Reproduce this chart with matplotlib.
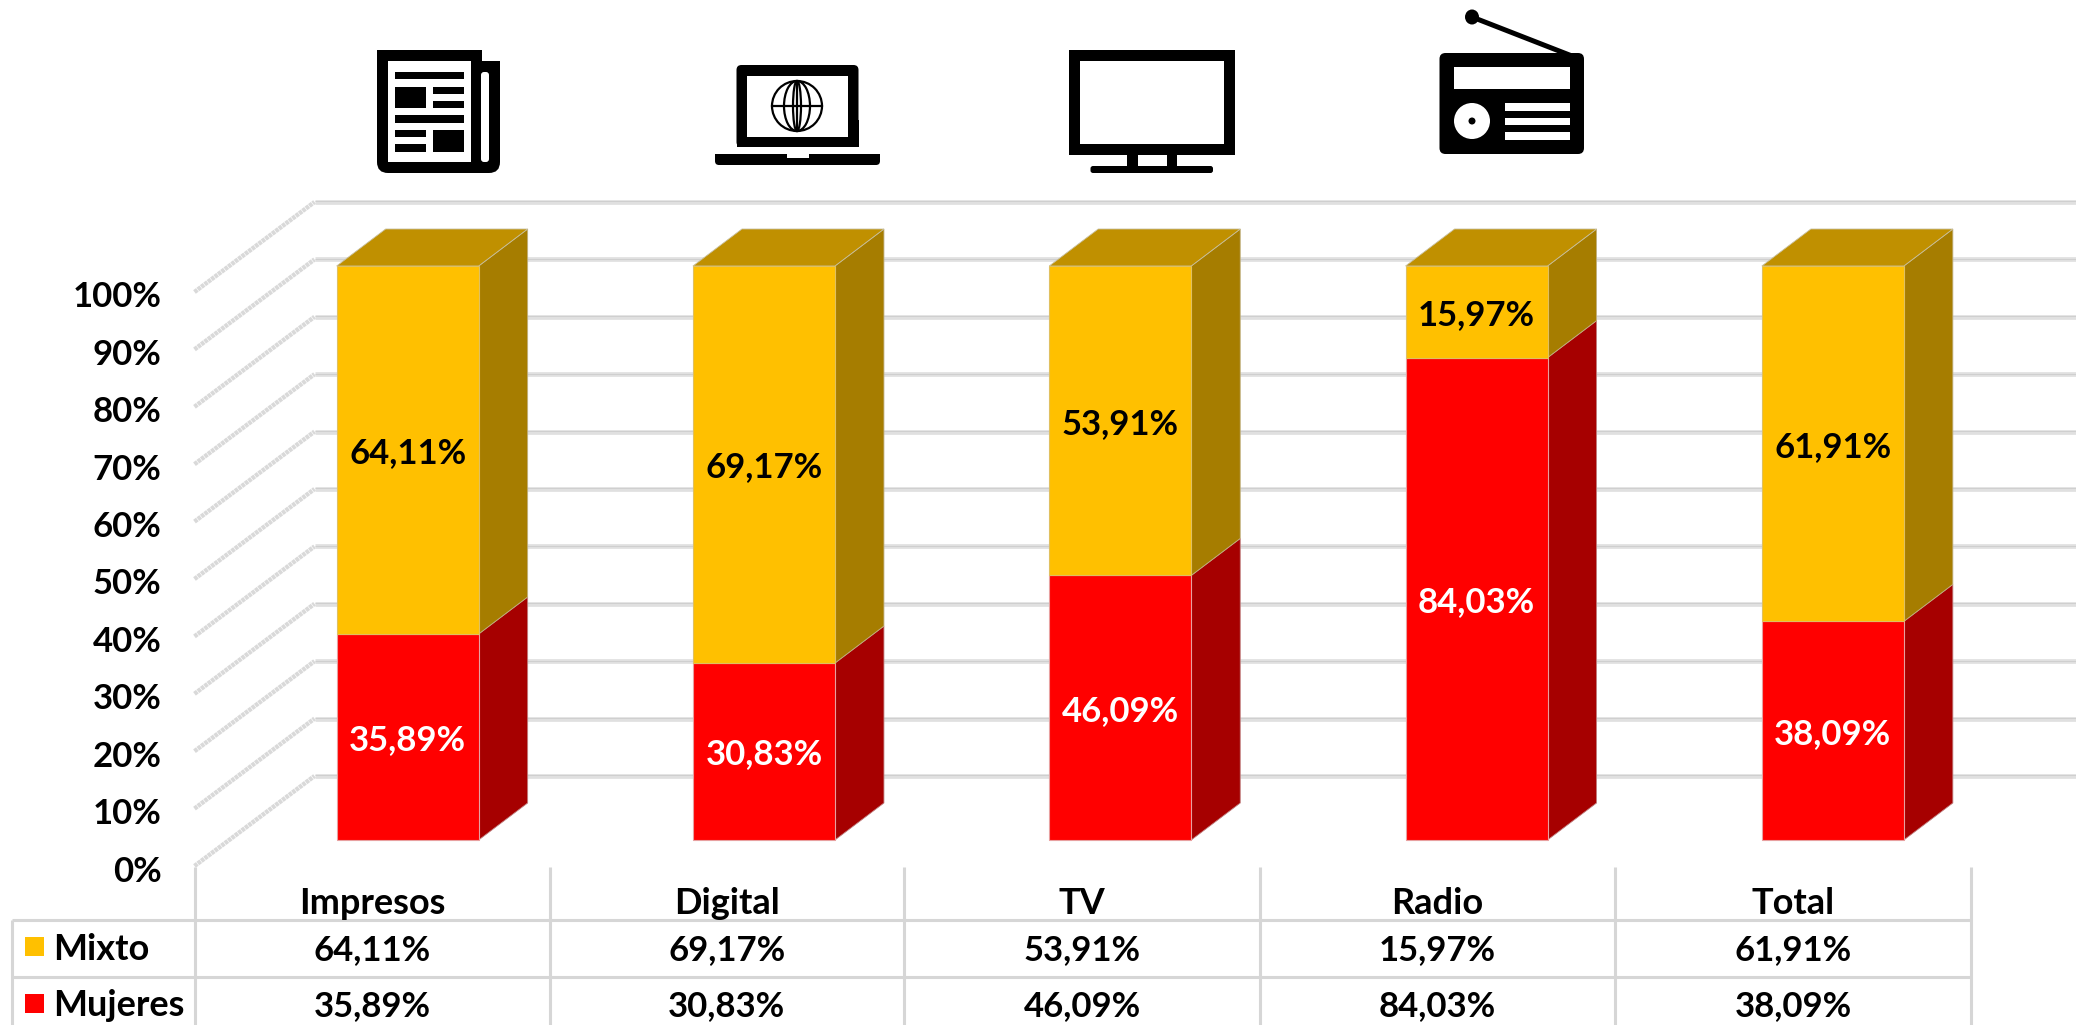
import matplotlib
matplotlib.use("Agg")
import matplotlib.pyplot as plt
from matplotlib.patches import Polygon, Rectangle, Ellipse, FancyBboxPatch

categories = ["Impresos", "Digital", "TV", "Radio", "Total"]
mixto = [64.11, 69.17, 53.91, 15.97, 61.91]
mujeres = [35.89, 30.83, 46.09, 84.03, 38.09]
yticks = [0, 10, 20, 30, 40, 50, 60, 70, 80, 90, 100]
series_names = ["Mixto", "Mujeres"]

W, H = 2076, 1025
FONT = "Lato"
FS = 25
FS_NAMES = 26
plt.rcParams["font.family"] = [FONT, "DejaVu Sans"]
fig = plt.figure(figsize=(W / 100, H / 100), dpi=100, facecolor="white")

# chart plane: x in categories, y in percent
CAT = 356.3
PCT = 5.74
X0, Y0 = 229.5, 840.0
ax = fig.add_axes([0, 0, 1, 1])
ax.set_xlim(-X0 / CAT, (W - X0) / CAT)
ax.set_ylim((Y0 - H) / PCT, Y0 / PCT)
ax.axis("off")

# overlay in pixels for icons and table frame
px = fig.add_axes([0, 0, 1, 1])
px.set_xlim(0, W)
px.set_ylim(H, 0)
px.axis("off")
px.patch.set_alpha(0)

dx_bar, dy_bar = 49 / CAT, 37 / PCT
width = 142 / CAT
# wall and floor offsets relative to the bar front plane
fx, fy = -35 / CAT, -26 / PCT
bx, by = 85 / CAT, 64 / PCT
right = (W - X0) / CAT
label_dy = -3 / PCT

for v in yticks:
    ax.plot([bx, right], [v + by, v + by], color="#e0e0e0", lw=3.4, zorder=1, solid_capstyle="butt")
    ax.plot([bx, right], [v + by + 0.1, v + by + 0.1], color="#cfcfcf", lw=0.7, zorder=1.1, solid_capstyle="butt")
    ax.plot([fx, bx], [v + fy, v + by], color="#d9d9d9", lw=3.2, zorder=1,
            linestyle=(0, (0.8, 0.15)), solid_capstyle="butt")

bar_kw = dict(width=width, linewidth=0.8, zorder=3)
for i, (mu, mi) in enumerate(zip(mujeres, mixto)):
    c = i + 0.5
    l, r = c - width / 2, c + width / 2
    ax.bar(c, mu, color="#FF0000", edgecolor="#e8a0a0", **bar_kw)
    ax.bar(c, mi, bottom=mu, color="#FFC000", edgecolor="#e0c060", **bar_kw)
    ax.add_patch(Polygon([(r, 0), (r + dx_bar, dy_bar), (r + dx_bar, mu + dy_bar), (r, mu)],
                         closed=True, fc="#A60000", ec="#c08080", lw=0.6, zorder=2.5))
    ax.add_patch(Polygon([(r, mu), (r + dx_bar, mu + dy_bar), (r + dx_bar, 100 + dy_bar), (r, 100)],
                         closed=True, fc="#A67D00", ec="#c0b080", lw=0.6, zorder=2.5))
    ax.add_patch(Polygon([(l, 100), (l + dx_bar, 100 + dy_bar), (r + dx_bar, 100 + dy_bar), (r, 100)],
                         closed=True, fc="#C09000", ec="#c8c0a0", lw=0.6, zorder=2.6))
    ax.text(c, mu / 2 + label_dy, f"{mu:.2f}%".replace(".", ","), color="white", ha="center", va="center",
            fontsize=FS, fontweight="bold", zorder=5)
    ax.text(c, mu + mi / 2 + label_dy, f"{mi:.2f}%".replace(".", ","), color="black", ha="center", va="center",
            fontsize=FS, fontweight="bold", zorder=5)

for v in yticks:
    ax.text(-68 / CAT, v + fy - 5.5 / PCT, f"{v}%", ha="right", va="center", fontsize=FS, fontweight="bold", color="black")

# table
GRID = "#d6d6d6"
col_edges = [195, 549.5, 904, 1260, 1615, 1971]
rows_y = [920, 977]
for x in col_edges:
    px.plot([x, x], [867, H], color=GRID, lw=2.2, solid_capstyle="butt")
px.plot([12, 12], [920, H], color=GRID, lw=2.2, solid_capstyle="butt")
for y in rows_y:
    px.plot([12, 1971], [y, y], color=GRID, lw=2.2, solid_capstyle="butt")

for i, name in enumerate(categories):
    tc = (col_edges[i] + col_edges[i + 1]) / 2
    px.text(tc, 903.5, name, ha="center", va="center", fontsize=FS_NAMES, fontweight="bold")
    px.text(tc, 950, f"{mixto[i]:.2f}%".replace(".", ","), ha="center", va="center", fontsize=FS, fontweight="bold")
    px.text(tc, 1006, f"{mujeres[i]:.2f}%".replace(".", ","), ha="center", va="center", fontsize=FS, fontweight="bold")

px.add_patch(Rectangle((25, 937), 19, 19, fc="#FFC000", ec="none"))
px.add_patch(Rectangle((25, 994), 19, 19, fc="#FF0000", ec="none"))
px.text(53, 950, series_names[0], ha="left", va="center", fontsize=FS_NAMES, fontweight="bold")
px.text(53, 1006, series_names[1], ha="left", va="center", fontsize=FS_NAMES, fontweight="bold")


def rect(x0, y0, x1, y1, color="black", z=6):
    px.add_patch(Rectangle((x0, y0), x1 - x0, y1 - y0, fc=color, ec="none", zorder=z))


def rrect(x0, y0, x1, y1, r, color="black", z=6):
    px.add_patch(FancyBboxPatch((x0 + r, y0 + r), x1 - x0 - 2 * r, y1 - y0 - 2 * r,
                                boxstyle=f"round,pad={r},rounding_size={r}", fc=color, ec="none", zorder=z))


# newspaper icon
rrect(377, 61, 500, 173, 11)
rect(377, 50, 482, 80)
rect(471, 61, 500, 80)
rect(388, 61, 471, 162, "white", 7)
rrect(481, 72, 489, 162, 3, "white", 7)
for b in [(395, 72, 464, 79), (395, 87, 426, 108), (433, 87, 464, 94), (433, 101, 464, 108),
          (395, 115, 464, 123), (395, 130, 426, 137), (395, 144, 426, 152), (433, 130, 464, 152)]:
    rect(*b, z=8)

# laptop icon
rrect(736.5, 65, 858.5, 147, 5)
rect(736.5, 120, 858.5, 147)
rect(747, 76, 848, 137, "white", 7)
rrect(715, 154, 880, 165, 4)
rect(715, 154, 880, 159)
rect(786.5, 154, 808.5, 158, "white", 7)
for w, h in [(50, 50), (26, 50), (8, 50)]:
    px.add_patch(Ellipse((797, 106), w, h, fc="none", ec="black", lw=1.6, zorder=8))
px.plot([772, 822], [106, 106], color="black", lw=1.6, zorder=8)
px.plot([797, 797], [81, 131], color="black", lw=1.6, zorder=8)

# tv icon
rect(1069, 50, 1235, 155)
rect(1080, 61, 1224, 144, "white", 7)
rect(1127, 155, 1137.5, 168)
rect(1166.5, 155, 1177, 168)
rrect(1090.5, 166, 1213, 173, 2.5)

# radio icon
rrect(1439.5, 53, 1584, 154, 6)
rect(1454, 67, 1570, 89, "white", 7)
px.add_patch(Ellipse((1472, 121), 36, 36, fc="white", ec="none", zorder=7))
px.add_patch(Ellipse((1472, 121), 7, 7, fc="black", ec="none", zorder=8))
for b in [(1504.5, 103, 1570, 111), (1504.5, 118, 1570, 125), (1504.5, 132, 1570, 140)]:
    rect(*b, "white", 7)
px.add_patch(Ellipse((1472, 17), 14, 15, fc="black", ec="none", zorder=8))
px.plot([1472, 1572], [17, 56], color="black", lw=3.6, zorder=6, solid_capstyle="butt")

fig.savefig("out.png", dpi=100)
